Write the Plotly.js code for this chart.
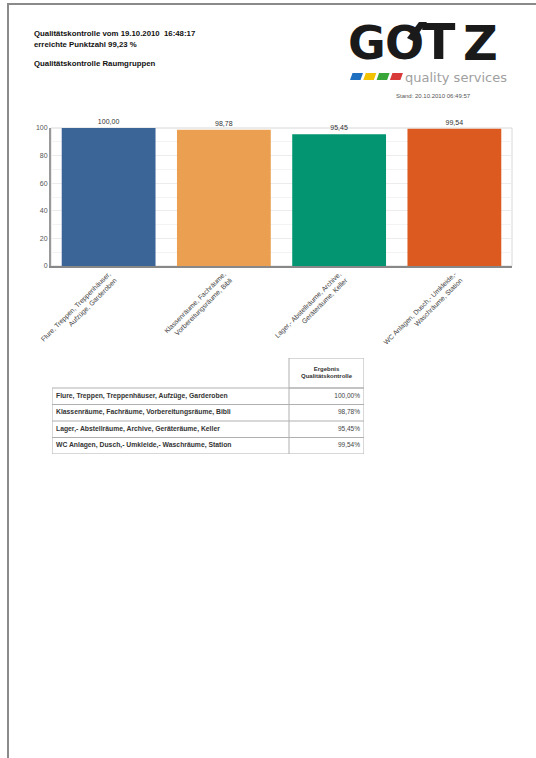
<!DOCTYPE html>
<html>
<head>
<meta charset="utf-8">
<script src="https://cdn.plot.ly/plotly-3.0.1.min.js"></script>
<style>html,body{margin:0;padding:0;background:#fff;}#chart{width:536px;height:758px;}</style>
</head>
<body>
<div id="chart"></div>
<script>
// ---- data ----
var categories = [
  "Flure, Treppen, Treppenhäuser,<br>Aufzüge, Garderoben",
  "Klassenräume, Fachräume,<br>Vorbereitungsräume, Bibli",
  "Lager,- Abstellräume, Archive,<br>Geräteräume, Keller",
  "WC Anlagen, Dusch,- Umkleide,-<br>Waschräume, Station"
];
var tableLabels = [
  "Flure, Treppen, Treppenhäuser, Aufzüge, Garderoben",
  "Klassenräume, Fachräume, Vorbereitungsräume, Bibli",
  "Lager,- Abstellräume, Archive, Geräteräume, Keller",
  "WC Anlagen, Dusch,- Umkleide,- Waschräume, Station"
];
var values = [100.00, 98.78, 95.45, 99.54];
var barColors = ["#3b6597", "#eb9f51", "#039571", "#dc591f"];
var yTicks = [0, 20, 40, 60, 80, 100];
var headerLines = ["Qualitätskontrolle vom 19.10.2010  16:48:17", "erreichte Punktzahl 99,23 %"];
var subTitle = "Qualitätskontrolle Raumgruppen";
var standText = "Stand: 20.10.2010 06:49:57";
var tableHeader = "Ergebnis<br>Qualitätskontrolle";

// ---- helpers / layout constants ----
var W = 536, H = 758;
function fx(p){ return p / W; }
function fy(p){ return 1 - p / H; }
function fmt(v){ return v.toFixed(2).replace('.', ','); }
var FONT = 'Liberation Sans, Arial, sans-serif';

// table geometry (in table-axis units = pixels)
var tblW = 312, col1W = 237, headH = 30, rowH = 16.5;
var tblH = headH + rowH * tableLabels.length;
var rowCenters = tableLabels.map(function(_, i){ return headH + rowH * (i + 0.5); });

var bar = {
  type: 'bar',
  x: categories,
  y: values,
  marker: { color: barColors, line: { width: 0 } },
  text: values.map(fmt),
  textposition: 'outside',
  cliponaxis: false,
  textfont: { family: FONT, size: 7, color: '#333' },
  hoverinfo: 'none',
  xaxis: 'x', yaxis: 'y'
};

var tblLabels = {
  type: 'scatter', mode: 'text', xaxis: 'x2', yaxis: 'y2',
  x: tableLabels.map(function(){ return 4; }),
  y: rowCenters,
  text: tableLabels.map(function(s){ return '<b>' + s + '</b>'; }),
  textposition: 'middle right',
  textfont: { family: FONT, size: 6.8, color: '#333' },
  cliponaxis: false, hoverinfo: 'none'
};
var tblValues = {
  type: 'scatter', mode: 'text', xaxis: 'x2', yaxis: 'y2',
  x: values.map(function(){ return tblW - 4; }),
  y: rowCenters,
  text: values.map(function(v){ return fmt(v) + '%'; }),
  textposition: 'middle left',
  textfont: { family: FONT, size: 6.5, color: '#444' },
  cliponaxis: false, hoverinfo: 'none'
};
var tblHead = {
  type: 'scatter', mode: 'text', xaxis: 'x2', yaxis: 'y2',
  x: [(col1W + tblW) / 2], y: [headH / 2],
  text: ['<b>' + tableHeader + '</b>'],
  textposition: 'middle center',
  textfont: { family: FONT, size: 6, color: '#333' },
  cliponaxis: false, hoverinfo: 'none'
};

var annotations = [];
headerLines.forEach(function(t, i){
  annotations.push({ xref: 'paper', yref: 'paper', x: fx(32), y: fy(34 + i * 10), xanchor: 'left', yanchor: 'middle',
    text: '<b>' + t + '</b>', showarrow: false, font: { family: FONT, size: 7.8, color: '#111' } });
});
annotations.push({ xref: 'paper', yref: 'paper', x: fx(32), y: fy(64), xanchor: 'left', yanchor: 'middle',
  text: '<b>' + subTitle + '</b>', showarrow: false, font: { family: FONT, size: 7.8, color: '#111' } });

// logo letters
var logoLetters = ['G', 'O', 'T', 'Z'];
var logoX = [367, 404, 439, 480];
var logoSize = [46, 46, 49, 48];
logoLetters.forEach(function(l, i){
  annotations.push({ xref: 'paper', yref: 'paper', x: fx(logoX[i]), y: fy(43), xanchor: 'center', yanchor: 'middle',
    text: '<b>' + l + '</b>', showarrow: false, font: { family: 'DejaVu Sans, sans-serif', size: logoSize[i], color: '#1a1a1a' } });
});
annotations.push({ xref: 'paper', yref: 'paper', x: fx(456), y: fy(77), xanchor: 'center', yanchor: 'middle',
  text: 'quality services', showarrow: false, font: { family: 'DejaVu Sans, sans-serif', size: 13, color: '#a0a0a0' } });
annotations.push({ xref: 'paper', yref: 'paper', x: fx(433), y: fy(96), xanchor: 'center', yanchor: 'middle',
  text: standText, showarrow: false, font: { family: FONT, size: 6, color: '#555' } });

var shapes = [];
// page frame
shapes.push({ type: 'path', xref: 'paper', yref: 'paper',
  path: 'M ' + fx(8) + ' ' + fy(760) + ' L ' + fx(8) + ' ' + fy(4) + ' L ' + fx(540) + ' ' + fy(4),
  line: { color: '#8a8a8a', width: 2 } });
// plot area frame
shapes.push({ type: 'rect', xref: 'x domain', yref: 'y domain', x0: 0, x1: 1, y0: 0, y1: 1,
  line: { color: '#d8d8d8', width: 1 }, layer: 'below' });
// accent stroke of the O
shapes.push({ type: 'path', xref: 'paper', yref: 'paper',
  path: 'M ' + fx(407) + ' ' + fy(38) + ' L ' + fx(419) + ' ' + fy(22) + ' L ' + fx(427) + ' ' + fy(22) + ' L ' + fx(413) + ' ' + fy(41) + ' Z',
  fillcolor: '#1a1a1a', line: { width: 0 } });
// coloured parallelograms
var pColors = ['#1f6fc0', '#f2c200', '#3aa63a', '#d83a3a'];
pColors.forEach(function(c, i){
  var x0 = 350 + i * 13.3;
  shapes.push({ type: 'path', xref: 'paper', yref: 'paper',
    path: 'M ' + fx(x0) + ' ' + fy(80) + ' L ' + fx(x0 + 2.5) + ' ' + fy(73) + ' L ' + fx(x0 + 13) + ' ' + fy(73) + ' L ' + fx(x0 + 10.5) + ' ' + fy(80) + ' Z',
    fillcolor: c, line: { width: 0 } });
});
// table lines
var TL = { color: '#b0b0b0', width: 1 };
shapes.push({ type: 'rect', xref: 'x2', yref: 'y2', x0: 0, x1: tblW, y0: headH, y1: tblH, line: TL });
shapes.push({ type: 'rect', xref: 'x2', yref: 'y2', x0: col1W, x1: tblW, y0: 0, y1: headH, line: TL });
shapes.push({ type: 'line', xref: 'x2', yref: 'y2', x0: col1W, x1: col1W, y0: headH, y1: tblH, line: TL });
rowCenters.slice(1).forEach(function(c){
  shapes.push({ type: 'line', xref: 'x2', yref: 'y2', x0: 0, x1: tblW, y0: c - rowH / 2, y1: c - rowH / 2, line: TL });
});

var layout = {
  width: W, height: H,
  margin: { l: 0, r: 0, t: 0, b: 0 },
  paper_bgcolor: 'white', plot_bgcolor: 'white',
  showlegend: false,
  bargap: 0.186,
  separators: ',.',
  xaxis: {
    domain: [fx(51), fx(512)],
    anchor: 'y',
    tickangle: -45,
    tickfont: { family: FONT, size: 6.8, color: '#444' },
    showline: true, linecolor: '#888', linewidth: 1.5,
    ticks: '', showgrid: false, fixedrange: true
  },
  yaxis: {
    domain: [fy(266), fy(128)],
    anchor: 'x',
    range: [0, 100],
    tickvals: yTicks,
    ticktext: yTicks.map(String),
    tickfont: { family: FONT, size: 7, color: '#555' },
    showline: true, linecolor: '#999', linewidth: 2,
    showgrid: true, gridcolor: '#ececec', gridwidth: 1,
    minor: { dtick: 10, showgrid: true, gridcolor: '#f3f3f3' },
    zeroline: false, ticks: '', ticklen: 0, fixedrange: true
  },
  xaxis2: { domain: [fx(52), fx(52 + tblW)], anchor: 'y2', range: [0, tblW], visible: false, fixedrange: true },
  yaxis2: { domain: [fy(358 + tblH), fy(358)], anchor: 'x2', range: [tblH, 0], visible: false, fixedrange: true },
  annotations: annotations,
  shapes: shapes
};

Plotly.newPlot('chart', [bar, tblLabels, tblValues, tblHead], layout, { displayModeBar: false, staticPlot: true });
</script>
</body>
</html>
